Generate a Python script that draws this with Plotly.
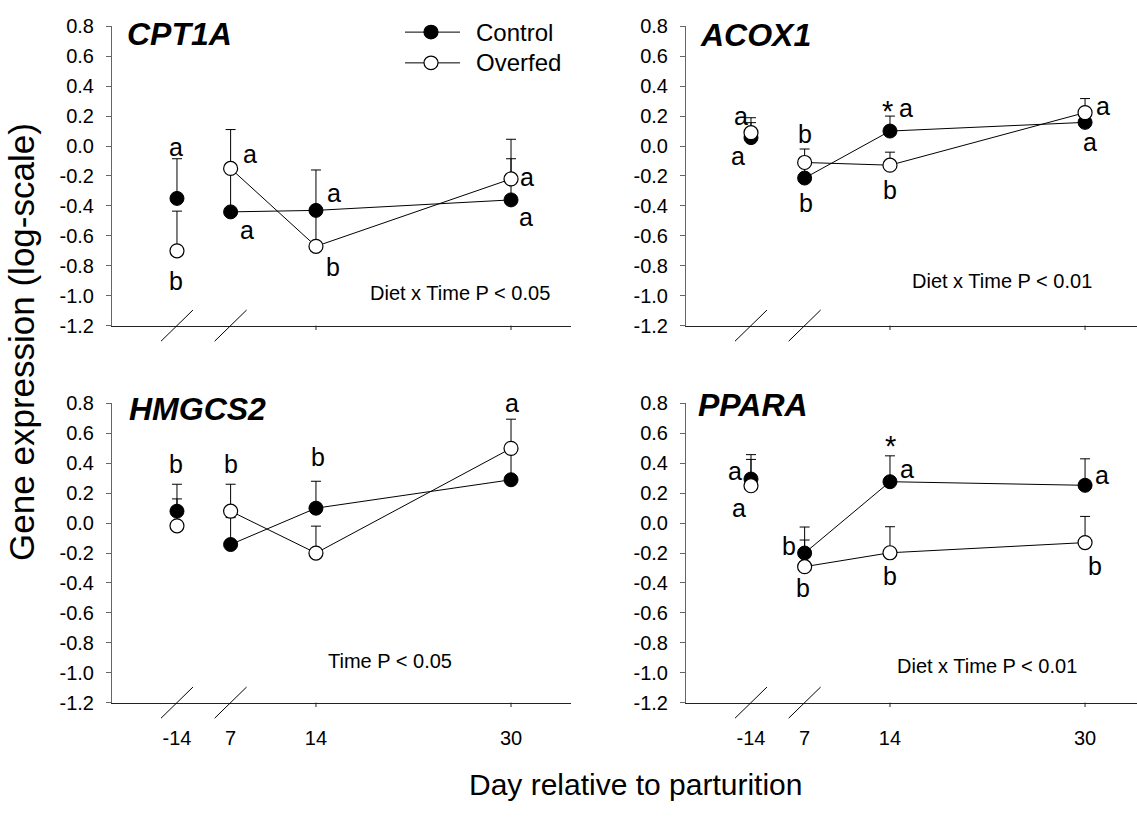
import plotly.graph_objects as go

# ---------------- data ----------------
days = [-14, 7, 14, 30]
day_labels = ['-14', '7', '14', '30']
# where each sampling day sits on the broken x axis (day -14 sits left of the break)
day_pos = [2.6, 7, 14, 30]
y_ticks = [-1.2, -1.0, -0.8, -0.6, -0.4, -0.2, 0.0, 0.2, 0.4, 0.6, 0.8]
y_tick_labels = ['-1.2', '-1.0', '-0.8', '-0.6', '-0.4', '-0.2', '0.0', '0.2', '0.4', '0.6', '0.8']

genes = ['CPT1A', 'ACOX1', 'HMGCS2', 'PPARA']
series_names = ['Control', 'Overfed']

cpt1a_control = [-0.35, -0.44, -0.43, -0.36]
cpt1a_control_se = [0.265, 0.26, 0.27, 0.275]
cpt1a_overfed = [-0.70, -0.15, -0.67, -0.22]
cpt1a_overfed_se = [0.265, 0.26, 0.26, 0.265]

acox1_control = [0.056, -0.214, 0.10, 0.158]
acox1_control_se = [0.10, 0.10, 0.10, 0.10]
acox1_overfed = [0.089, -0.11, -0.128, 0.223]
acox1_overfed_se = [0.10, 0.09, 0.087, 0.094]

hmgcs2_control = [0.08, -0.143, 0.10, 0.29]
hmgcs2_control_se = [0.18, 0.18, 0.18, 0.18]
hmgcs2_overfed = [-0.018, 0.08, -0.20, 0.50]
hmgcs2_overfed_se = [0.18, 0.18, 0.18, 0.195]

ppara_control = [0.295, -0.20, 0.277, 0.253]
ppara_control_se = [0.163, 0.174, 0.173, 0.177]
ppara_overfed = [0.25, -0.291, -0.198, -0.13]
ppara_overfed_se = [0.176, 0.178, 0.174, 0.175]

# significance letters (per day) and asterisks
cpt1a_control_letters = ['a', 'a', 'a', 'a']
cpt1a_overfed_letters = ['b', 'a', 'b', 'a']
acox1_control_letters = ['a', 'b', 'a', 'a']
acox1_overfed_letters = ['a', 'b', 'b', 'a']
acox1_stars = ['', '', '*', '']
hmgcs2_time_letters = ['b', 'b', 'b', 'a']
ppara_control_letters = ['a', 'b', 'a', 'a']
ppara_overfed_letters = ['a', 'b', 'b', 'b']
ppara_stars = ['', '', '*', '']

stat_texts = ['Diet x Time P < 0.05', 'Diet x Time P < 0.01', 'Time P < 0.05', 'Diet x Time P < 0.01']

# ---------------- styling / layout ----------------
W, H = 1137, 820
FONT = 'Liberation Sans, Arial, Helvetica, sans-serif'

def px(xp):
    return xp / W

def py(yp):
    return 1 - yp / H

x_dom_left = [px(112), px(571)]
x_dom_right = [px(686), 1.0]
y_dom_top = [py(323.3), py(15.7)]
y_dom_bot = [py(710.7), py(403.3)]
x_range_left = [-2.73, 34.92]
x_range_right = [-2.73, 34.26]
PLOT_H = 307.4  # px height of each panel

# letter offsets in pixels (dx, dy) relative to the point they belong to
cpt1a_c_off = [(-1, 51), (16, -18), (18, 17), (15, -17)]
cpt1a_o_off = [(-1, -30), (19, 14), (17, -21), (16, 2)]
acox1_c_off = [(-13, -18), (1, -25), (16, 23), (5, -20)]
acox1_o_off = [(-10, 17), (0, 28), (0, -25), (18, 7)]
acox1_star_off = [None, None, (-2, 20), None]
hmgcs2_off = [('C', -1, 47), ('O', 0, 47), ('C', 2, 51), ('O', 1, 45)]
ppara_c_off = [(-16, 8), (-16, 7), (17, 13), (17, 10)]
ppara_o_off = [(-12, -22), (-2, -21), (0, -23), (10, -23)]
ppara_star_off = [None, None, (1, 36), None]

panels = [
    dict(gene=genes[0], c=cpt1a_control, cse=cpt1a_control_se, o=cpt1a_overfed, ose=cpt1a_overfed_se,
         xa='x', ya='y', xdom=x_dom_left, ydom=y_dom_top, xr=x_range_left, bottom=False,
         title_xy=(125, 24), stat_xy=(460, 290)),
    dict(gene=genes[1], c=acox1_control, cse=acox1_control_se, o=acox1_overfed, ose=acox1_overfed_se,
         xa='x2', ya='y2', xdom=x_dom_right, ydom=y_dom_top, xr=x_range_right, bottom=False,
         title_xy=(698, 25), stat_xy=(1002, 277)),
    dict(gene=genes[2], c=hmgcs2_control, cse=hmgcs2_control_se, o=hmgcs2_overfed, ose=hmgcs2_overfed_se,
         xa='x3', ya='y3', xdom=x_dom_left, ydom=y_dom_bot, xr=x_range_left, bottom=True,
         title_xy=(127, 409), stat_xy=(390, 668)),
    dict(gene=genes[3], c=ppara_control, cse=ppara_control_se, o=ppara_overfed, ose=ppara_overfed_se,
         xa='x4', ya='y4', xdom=x_dom_right, ydom=y_dom_bot, xr=x_range_right, bottom=True,
         title_xy=(696, 405), stat_xy=(987, 673)),
]

fig = go.Figure()

marker_c = dict(symbol='circle', size=14, color='black', line=dict(color='black', width=1))
marker_o = dict(symbol='circle', size=14, color='white', line=dict(color='black', width=1.2))

def err(vals):
    return dict(type='data', array=vals, arrayminus=[0] * len(vals), symmetric=False,
                color='black', thickness=1, width=5, visible=True)

for i, p in enumerate(panels):
    for name, vals, se, mk in [(series_names[0], p['c'], p['cse'], marker_c),
                               (series_names[1], p['o'], p['ose'], marker_o)]:
        # pre-partum point (not connected)
        fig.add_trace(go.Scatter(x=day_pos[:1], y=vals[:1], mode='markers', marker=mk,
                                 error_y=err(se[:1]), name=name, showlegend=False,
                                 xaxis=p['xa'], yaxis=p['ya'], cliponaxis=False))
        # post-partum points (connected)
        fig.add_trace(go.Scatter(x=day_pos[1:], y=vals[1:], mode='lines+markers', marker=mk,
                                 line=dict(color='black', width=1),
                                 error_y=err(se[1:]), name=name, showlegend=False,
                                 xaxis=p['xa'], yaxis=p['ya'], cliponaxis=False))

annotations = []
shapes = []

def letter(xa, ya, xi, val, text, dx, dy, size=25):
    annotations.append(dict(x=day_pos[xi], y=val, xref=xa, yref=ya, text=text, showarrow=False,
                            xanchor='center', yanchor='middle',
                            xshift=dx, yshift=dy, font=dict(size=size, color='black', family=FONT)))

# CPT1A letters
for k in range(4):
    letter('x', 'y', k, cpt1a_control[k], cpt1a_control_letters[k], *cpt1a_c_off[k])
    letter('x', 'y', k, cpt1a_overfed[k], cpt1a_overfed_letters[k], *cpt1a_o_off[k])
# ACOX1
for k in range(4):
    letter('x2', 'y2', k, acox1_control[k], acox1_control_letters[k], *acox1_c_off[k])
    letter('x2', 'y2', k, acox1_overfed[k], acox1_overfed_letters[k], *acox1_o_off[k])
    if acox1_stars[k]:
        letter('x2', 'y2', k, acox1_control[k], acox1_stars[k], *acox1_star_off[k], size=29)
# HMGCS2
for k in range(4):
    s, dx, dy = hmgcs2_off[k]
    val = hmgcs2_control[k] if s == 'C' else hmgcs2_overfed[k]
    letter('x3', 'y3', k, val, hmgcs2_time_letters[k], dx, dy)
# PPARA
for k in range(4):
    letter('x4', 'y4', k, ppara_control[k], ppara_control_letters[k], *ppara_c_off[k])
    letter('x4', 'y4', k, ppara_overfed[k], ppara_overfed_letters[k], *ppara_o_off[k])
    if ppara_stars[k]:
        letter('x4', 'y4', k, ppara_control[k], ppara_stars[k], *ppara_star_off[k], size=29)

for i, p in enumerate(panels):
    # gene title
    annotations.append(dict(x=px(p['title_xy'][0]), y=py(p['title_xy'][1]), xref='paper', yref='paper',
                            xanchor='left', yanchor='middle', showarrow=False,
                            text='<b><i>%s</i></b>' % p['gene'],
                            font=dict(size=32, color='black', family=FONT)))
    # statistics text
    annotations.append(dict(x=px(p['stat_xy'][0]), y=py(p['stat_xy'][1]), xref='paper', yref='paper',
                            xanchor='center', yanchor='middle', showarrow=False, text=stat_texts[i],
                            font=dict(size=20, color='black', family=FONT)))
    # axis break marks at day -14 and day 7
    for bp in day_pos[:2]:
        shapes.append(dict(type='line', xref=p['xa'], yref=p['ya'] + ' domain',
                           x0=bp - 1.31, x1=bp + 1.31, y0=-16 / PLOT_H, y1=16 / PLOT_H,
                           line=dict(color='black', width=1)))
    # small outward tick marks at days 14 and 30 only
    for tv in day_pos[2:]:
        shapes.append(dict(type='line', xref=p['xa'], yref=p['ya'] + ' domain',
                           x0=tv, x1=tv, y0=0, y1=-4.5 / PLOT_H,
                           line=dict(color='#222', width=1)))

# axis titles
annotations.append(dict(x=px(22), y=py(340), xref='paper', yref='paper', textangle=-90,
                        xanchor='center', yanchor='middle',
                        showarrow=False, text='Gene expression (log-scale)',
                        font=dict(size=35, color='black', family=FONT)))
annotations.append(dict(x=px(636), y=py(795), xref='paper', yref='paper', showarrow=False,
                        xanchor='center', yanchor='middle',
                        text='Day relative to parturition',
                        font=dict(size=30, color='black', family=FONT)))

# legend (drawn in the first panel's corner)
for j, (name, fillc, ly) in enumerate([(series_names[0], 'black', 21.7), (series_names[1], 'white', 53.3)]):
    shapes.append(dict(type='line', xref='paper', yref='paper', x0=px(405), x1=px(460),
                       y0=py(ly), y1=py(ly), line=dict(color='black', width=1)))
    shapes.append(dict(type='circle', xref='paper', yref='paper', x0=px(431 - 7), x1=px(431 + 7),
                       y0=py(ly + 7), y1=py(ly - 7), fillcolor=fillc,
                       line=dict(color='black', width=1.2)))
    annotations.append(dict(x=px(474), y=py(ly), xref='paper', yref='paper', xanchor='left',
                            yanchor='middle', showarrow=False, text=name,
                            font=dict(size=24, color='black', family=FONT)))

layout = dict(
    width=W, height=H, margin=dict(l=0, r=0, t=0, b=0),
    paper_bgcolor='white', plot_bgcolor='white', showlegend=False,
    font=dict(family=FONT, color='black', size=20),
    annotations=annotations, shapes=shapes,
)

for i, p in enumerate(panels):
    xk = 'xaxis' + ('' if i == 0 else str(i + 1))
    yk = 'yaxis' + ('' if i == 0 else str(i + 1))
    layout[xk] = dict(domain=p['xdom'], range=p['xr'], anchor=p['ya'], showgrid=False, zeroline=False,
                      showline=True, linecolor='#222', linewidth=1,
                      tickmode='array', tickvals=day_pos, ticktext=day_labels, ticks='',
                      showticklabels=p['bottom'], ticklabelstandoff=17,
                      tickfont=dict(size=20, color='black', family=FONT),
                      fixedrange=True)
    layout[yk] = dict(domain=p['ydom'], range=[-1.2, 0.8], anchor=p['xa'], showgrid=False, zeroline=False,
                      showline=True, linecolor='#666', linewidth=1,
                      tickmode='array', tickvals=y_ticks, ticktext=y_tick_labels,
                      ticks='outside', ticklen=5, tickcolor='#666', tickwidth=1,
                      ticklabelstandoff=8,
                      tickfont=dict(size=20, color='black', family=FONT), fixedrange=True)

fig.update_layout(**layout)
fig.write_html('out.html')
